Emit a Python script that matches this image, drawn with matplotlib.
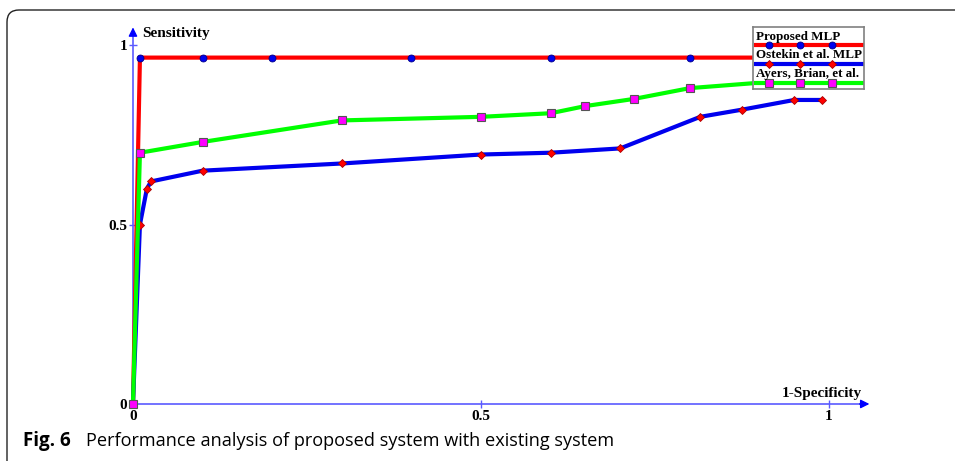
import matplotlib.pyplot as plt
from matplotlib.patches import FancyBboxPatch

# ROC points
proposed_x = [0, 0.01, 0.1, 0.2, 0.4, 0.6, 0.8, 1.0]
proposed_y = [0, 0.965, 0.965, 0.965, 0.965, 0.965, 0.965, 0.965]

ostekin_x = [0, 0.01, 0.02, 0.026, 0.1, 0.3, 0.5, 0.6, 0.7, 0.815, 0.875, 0.95, 0.99]
ostekin_y = [0, 0.5, 0.6, 0.62, 0.65, 0.67, 0.695, 0.70, 0.712, 0.80, 0.82, 0.847, 0.847]

ayers_x = [0, 0.01, 0.1, 0.3, 0.5, 0.6, 0.65, 0.72, 0.8, 0.9, 1.0]
ayers_y = [0, 0.70, 0.73, 0.79, 0.80, 0.81, 0.83, 0.85, 0.88, 0.895, 0.9]

names = ["Proposed MLP", "Ostekin et al. MLP", "Ayers, Brian, et al."]
tick_vals = [0, 0.5, 1]
tick_labels = ["0", "0.5", "1"]

serif = "Liberation Serif"
axis_col = "#5a5aff"

styles = [
    dict(color="#ff0000", lw=3, marker="o", ms=5, mfc="#0000ee", mec="#000088", mew=0.6),
    dict(color="#0000ee", lw=3, marker="D", ms=4.2, mfc="#ff0000", mec="#aa0000", mew=0.6),
    dict(color="#00ff00", lw=3, marker="s", ms=5.2, mfc="#ff00ff", mec="#555555", mew=0.8),
]

fig = plt.figure(figsize=(9.55, 4.61), dpi=100)

# rounded frame around the figure panel
frame = FancyBboxPatch((0.07, -0.5), 10.0, 4.51 + 0.5,
                       boxstyle="round,pad=0,rounding_size=0.12",
                       transform=fig.dpi_scale_trans, fill=False,
                       edgecolor="#222222", lw=1.0)
fig.patches.append(frame)

ax = fig.add_axes([0.1028, 0.0770, 0.8236, 0.872])
ax.set_xlim(-0.05, 1.08)
ax.set_ylim(-0.06, 1.06)

for (xs, ys), st in zip([(proposed_x, proposed_y), (ostekin_x, ostekin_y),
                          (ayers_x, ayers_y)], styles):
    ax.plot(xs, ys, zorder=3, solid_joinstyle="round", **st)

for s in ["top", "right"]:
    ax.spines[s].set_visible(False)
ax.spines["left"].set_position(("data", 0))
ax.spines["bottom"].set_position(("data", 0))
ax.spines["left"].set_bounds(0, 1.04)
ax.spines["bottom"].set_bounds(0, 1.05)
for s in ["left", "bottom"]:
    ax.spines[s].set_color(axis_col)
    ax.spines[s].set_linewidth(1.2)

ax.annotate("", xy=(0, 1.057), xytext=(0, 1.03),
            arrowprops=dict(arrowstyle="-|>", color="#0000ff", lw=1, mutation_scale=13))
ax.annotate("", xy=(1.062, 0), xytext=(1.04, 0),
            arrowprops=dict(arrowstyle="-|>", color="#0000ff", lw=1, mutation_scale=13))

ax.set_xticks(tick_vals)
ax.set_xticklabels(tick_labels)
ax.set_yticks(tick_vals)
ax.set_yticklabels(tick_labels)
ax.tick_params(direction="inout", length=6, width=1, color=axis_col, labelsize=11, pad=1)
for lab in ax.get_xticklabels() + ax.get_yticklabels():
    lab.set_fontfamily(serif)
    lab.set_fontweight("bold")

ax.text(0.013, 1.033, "Sensitivity", family=serif, fontweight="bold", fontsize=11,
        ha="left", va="center")
ax.text(1.047, 0.03, "1-Specificity", family=serif, fontweight="bold", fontsize=11,
        ha="right", va="center")

# legend: label above a line sample, as in the original
lax = fig.add_axes([753 / 955, (461 - 89) / 461, 111 / 955, 62 / 461])
lax.set_xlim(0, 111)
lax.set_ylim(62, 0)
lax.set_xticks([])
lax.set_yticks([])
for sp in lax.spines.values():
    sp.set_color("#808080")
    sp.set_linewidth(1.2)
for i, (name, st) in enumerate(zip(names, styles)):
    ly = 18 + 18.8 * i
    lax.plot([3, 109], [ly, ly], color=st["color"], lw=st["lw"], zorder=2)
    lax.plot([16.3, 47, 78.7], [ly] * 3, ls="none", marker=st["marker"], ms=st["ms"],
             mfc=st["mfc"], mec=st["mec"], mew=st["mew"], zorder=3)
    lax.text(3.5, ly - 8.5, name, family=serif, fontweight="bold", fontsize=9.4,
             ha="left", va="center", zorder=4)

fig.text(23 / 955, 1 - 441 / 461, "Fig. 6", family="Open Sans", fontweight="bold",
         fontsize=13.5, ha="left", va="center")
fig.text(86 / 955, 1 - 441 / 461, "Performance analysis of proposed system with existing system",
         family="Open Sans", fontsize=13.1, ha="left", va="center")

fig.savefig("out.png", dpi=100)
plt.close(fig)
